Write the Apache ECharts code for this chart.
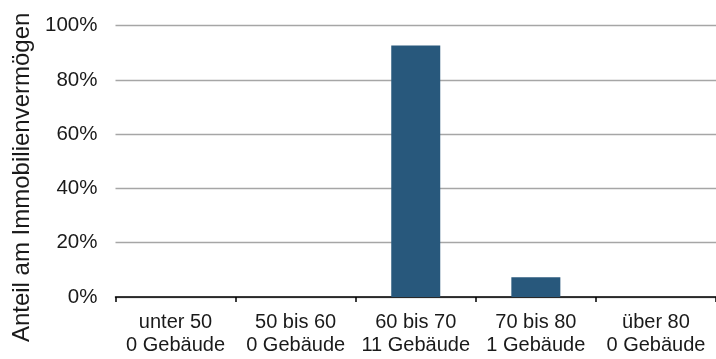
<!DOCTYPE html>
<html>
<head>
<meta charset="utf-8">
<script src="https://cdn.jsdelivr.net/npm/echarts@6/dist/echarts.min.js"></script>
<style>
html,body{margin:0;padding:0;background:#fff;}
#chart{width:716px;height:359px;}
</style>
</head>
<body>
<div id="chart"></div>
<script>
const categories = ["unter 50\n0 Gebäude", "50 bis 60\n0 Gebäude", "60 bis 70\n11 Gebäude", "70 bis 80\n1 Gebäude", "über 80\n0 Gebäude"];
const shareValues = [0, 0, 92.7, 7.3, 0];
const yTicks = [0, 20, 40, 60, 80, 100];
const yAxisTitle = "Anteil am Immobilienvermögen";

const chart = echarts.init(document.getElementById('chart'), null, {renderer: 'canvas'});
const font = '"Liberation Sans", Arial, sans-serif';
chart.setOption({
  animation: false,
  textStyle: {fontFamily: font},
  grid: {left: 115.5, top: 25.7, width: 605, bottom: 62, containLabel: false},
  xAxis: {
    type: 'category',
    data: categories,
    axisLine: {show: true, lineStyle: {color: '#000', width: 1.5}},
    axisTick: {show: true, alignWithLabel: false, interval: 0, length: 5, lineStyle: {color: '#000', width: 1.5}},
    axisLabel: {interval: 0, color: '#1a1a1a', fontSize: 20, lineHeight: 23, margin: 14, fontFamily: font},
    splitLine: {show: false}
  },
  yAxis: {
    type: 'value',
    min: yTicks[0],
    max: yTicks[yTicks.length - 1],
    interval: 20,
    name: yAxisTitle,
    nameLocation: 'middle',
    nameGap: 75,
    nameTextStyle: {fontSize: 24, color: '#1a1a1a', fontFamily: font, padding: [0, 32, 0, 0]},
    axisLine: {show: false},
    axisTick: {show: false},
    axisLabel: {formatter: '{value}%', color: '#1a1a1a', fontSize: 20.5, margin: 18, fontFamily: font},
    splitLine: {show: true, lineStyle: {color: '#a6a6a6', width: 1.3}}
  },
  series: [{
    type: 'bar',
    data: shareValues,
    barWidth: 49,
    itemStyle: {color: '#28587C'}
  }]
});
</script>
</body>
</html>
